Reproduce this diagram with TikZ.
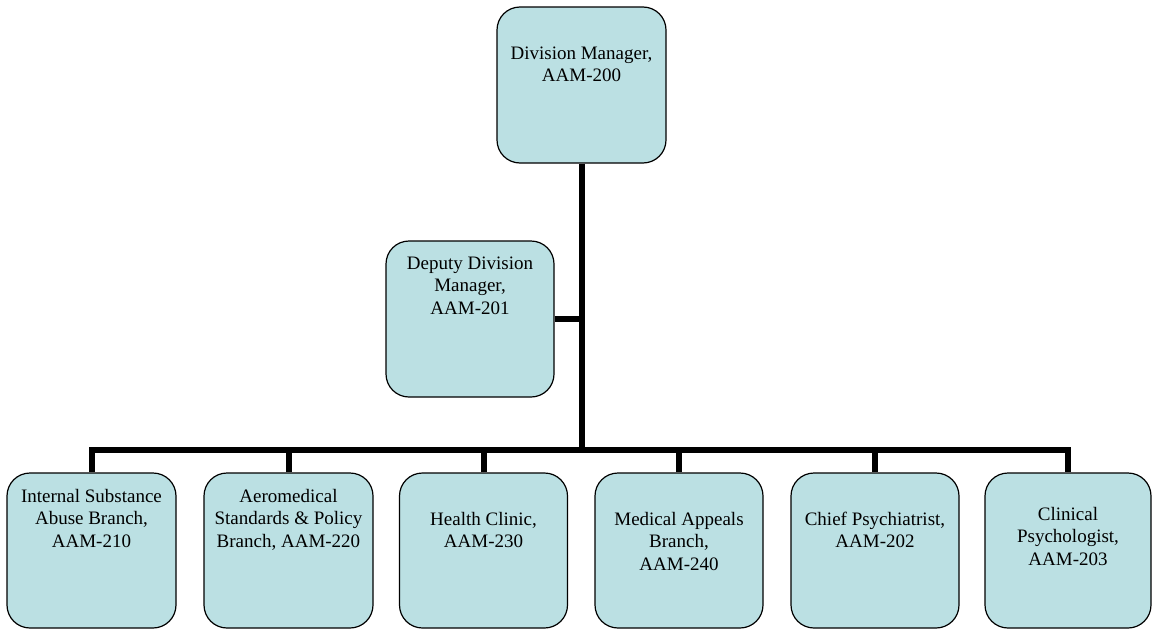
\documentclass[tikz,border=0pt]{standalone}
\usepackage{fontspec}
\setmainfont{Liberation Serif}
\definecolor{boxfill}{RGB}{187,224,227}
\newcommand{\boxtxt}[4]{\parbox[c][#2][t]{#1}{\centering\vspace*{\dimexpr #3-15.89pt\relax}\strut #4\par}}
\tikzset{
  orgbox/.style={draw=black, line width=1.2pt, fill=boxfill, rounded corners=23pt,
    inner sep=0pt, font=\fontsize{19}{22.7}\selectfont},
  link/.style={line width=6pt, draw=black, line join=miter, line cap=butt}
}
\begin{document}
\begin{tikzpicture}[x=1pt,y=-1pt]
\useasboundingbox (0,0) rectangle (1153,629);
\node[orgbox] (top) at (581.5,85) {\boxtxt{169pt}{156pt}{52pt}{Division Manager,\\AAM-200}};
\node[orgbox] (dep) at (470,319) {\boxtxt{168pt}{156pt}{28pt}{Deputy Division\\Manager,\\AAM-201}};
\node[orgbox] (b1) at (91.5,550.5) {\boxtxt{169pt}{155pt}{29pt}{Internal Substance\\Abuse Branch,\\AAM-210}};
\node[orgbox] (b2) at (288.5,550.5) {\boxtxt{169pt}{155pt}{29pt}{Aeromedical\\Standards \& Policy\\Branch, AAM-220}};
\node[orgbox] (b3) at (483.5,550.5) {\boxtxt{168pt}{155pt}{52pt}{Health Clinic,\\AAM-230}};
\node[orgbox] (b4) at (679,550.5) {\boxtxt{168pt}{155pt}{52pt}{Medical Appeals\\Branch,\\AAM-240}};
\node[orgbox] (b5) at (875,550.5) {\boxtxt{168pt}{155pt}{52pt}{Chief Psychiatrist,\\AAM-202}};
\node[orgbox] (b6) at (1068,550.5) {\boxtxt{166pt}{155pt}{47pt}{Clinical\\Psychologist,\\AAM-203}};
\coordinate (bus) at (581.5,450);
\draw[link] (top.south) -- (bus);
\draw[link] (b1.north) |- (bus) -| (b6.north);
\draw[link] (b2.north) -- (b2.north |- bus);
\draw[link] (b3.north) -- (b3.north |- bus);
\draw[link] (b4.north) -- (b4.north |- bus);
\draw[link] (b5.north) -- (b5.north |- bus);
\draw[link] (dep.east) -- (dep.east -| top.south);
\end{tikzpicture}
\end{document}
